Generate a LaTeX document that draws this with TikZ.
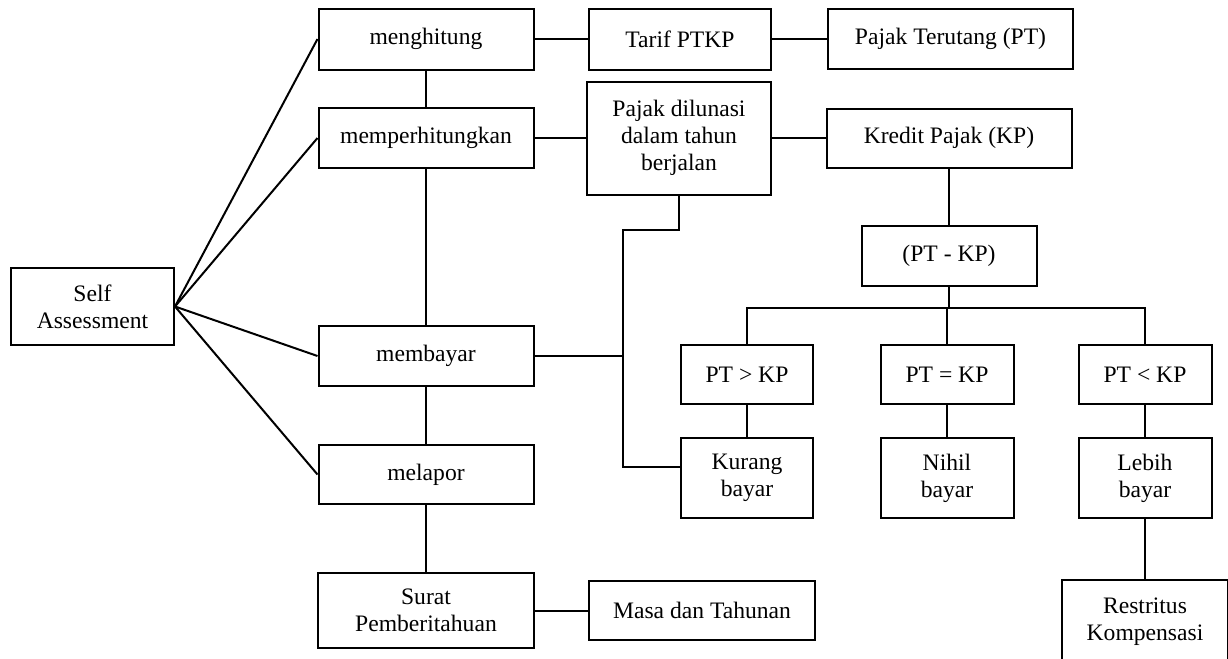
\documentclass[tikz,border=0pt]{standalone}
\usepackage{fontspec}
\setmainfont{Liberation Serif}
\begin{document}
\begin{tikzpicture}[x=0.5pt, y=-0.5pt,
  kotak/.style 2 args={draw, line width=1pt, align=center, inner sep=1pt,
    minimum width=#1*0.5pt, minimum height=#2*0.5pt,
    font=\fontsize{11.8}{13.6}\selectfont},
  garis/.style={line width=1pt}]
\useasboundingbox (0,0) rectangle (1228,659);

% Kolom kiri
\node[kotak={163}{77}] (self) at (92.5, 306.5) {Self\\Assessment};
\node[kotak={215}{61}] (hitung) at (426, 39) {menghitung};
\node[kotak={215}{60}] (perhitung) at (426, 138) {memperhitungkan};
\node[kotak={215}{60}] (bayar) at (426, 356) {membayar};
\node[kotak={215}{59}] (lapor) at (426, 474.5) {melapor};
\node[kotak={216}{75}] (surat) at (426, 610.5) {Surat\\Pemberitahuan};

% Kolom tengah dan kanan
\node[kotak={182}{61}] (tarif) at (680, 39) {Tarif PTKP};
\node[kotak={184}{113}] (lunas) at (679, 138) {Pajak dilunasi\\dalam tahun\\berjalan};
\node[kotak={245}{60}] (terutang) at (950.5, 39) {Pajak Terutang (PT)};
\node[kotak={245}{59}] (kredit) at (949, 138) {Kredit Pajak (KP)};
\node[kotak={175}{60}] (selisih) at (949, 256) {(PT - KP)};
\node[kotak={226}{59}] (masa) at (702, 610.5) {Masa dan Tahunan};

% Perbandingan PT dan KP
\node[kotak={132}{59}] (gt) at (747, 374.5) {PT > KP};
\node[kotak={133}{59}] (eq) at (947, 374.5) {PT = KP};
\node[kotak={133}{59}] (lt) at (1145, 374.5) {PT < KP};
\node[kotak={132}{80}] (kurang) at (747, 478) {Kurang\\bayar};
\node[kotak={133}{80}] (nihil) at (947, 478) {Nihil\\bayar};
\node[kotak={133}{80}] (lebih) at (1145, 478) {Lebih\\bayar};
\node[kotak={166}{84}] (restitusi) at (1145, 622) {Restritus\\Kompensasi};

\coordinate (cabang) at (949, 308);
\coordinate (sudut) at (623, 230);
\coordinate (sudutbawah) at (623, 467);

% Garis penghubung
\foreach \n in {hitung, perhitung, bayar, lapor}
  \draw[garis] (self.east) -- (\n.west);
\draw[garis] (hitung.south) -- (perhitung.north);
\draw[garis] (perhitung.south) -- (bayar.north);
\draw[garis] (bayar.south) -- (lapor.north);
\draw[garis] (lapor.south) -- (surat.north);
\draw[garis] (hitung.east) -- (tarif.west);
\draw[garis] (tarif.east) -- (terutang.west);
\draw[garis] (perhitung.east) -- (lunas.west);
\draw[garis] (lunas.east) -- (kredit.west);
\draw[garis] (surat.east) -- (masa.west);
\draw[garis] (lunas.south) |- (sudut) -- (sudutbawah) -- (sudutbawah -| kurang.west);
\draw[garis] (bayar.east) -- (bayar.east -| sudut);
\draw[garis] (kredit.south) -- (selisih.north);
\draw[garis] (selisih.south) -- (cabang);
\draw[garis] (gt.north) |- (cabang) -| (lt.north);
\draw[garis] (eq.north) -- (eq.north |- cabang);
\draw[garis] (gt.south) -- (kurang.north);
\draw[garis] (eq.south) -- (nihil.north);
\draw[garis] (lt.south) -- (lebih.north);
\draw[garis] (lebih.south) -- (restitusi.north);
\end{tikzpicture}
\end{document}
